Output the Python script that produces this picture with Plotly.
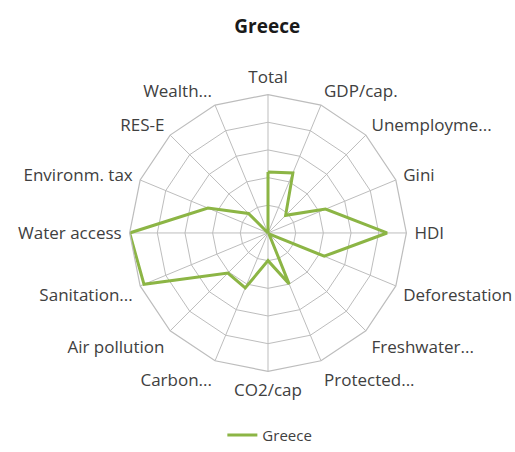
import plotly.graph_objects as go

categories = ["Total", "GDP/cap.", "Unemployme...", "Gini", "HDI", "Deforestation",
              "Freshwater...", "Protected...", "CO2/cap", "Carbon...", "Air pollution",
              "Sanitation...", "Water access", "Environm. tax", "RES-E", "Wealth..."]
greece = [0.44, 0.47, 0.18, 0.45, 0.86, 0.44, 0.01, 0.40, 0.20, 0.43, 0.41,
          0.97, 1.00, 0.47, 0.20, 0.0]

series_name = "Greece"
line_color = "#8cb545"
grid_color = "#bdbdbd"
text_color = "#404040"
font_family = "'Open Sans', sans-serif"

fig = go.Figure()
fig.add_trace(go.Scatterpolar(
    r=greece + greece[:1],
    theta=categories + categories[:1],
    mode="lines",
    name=series_name,
    line=dict(color=line_color, width=3),
))

fig.update_layout(
    width=515, height=452,
    margin=dict(l=0, r=0, t=0, b=0),
    paper_bgcolor="white",
    plot_bgcolor="white",
    font=dict(family=font_family, size=17, color=text_color),
    title=dict(text="<b>Greece</b>", x=0.519, xanchor="center", y=0.942, yanchor="middle",
               font=dict(family=font_family, size=19, color="#1a1a1a")),
    polar=dict(
        domain=dict(x=[0.2505, 0.7903], y=[0.1748, 0.7898]),
        bgcolor="white",
        gridshape="linear",
        radialaxis=dict(range=[0, 1], dtick=0.2, showticklabels=False, ticks="",
                        showline=False, gridcolor=grid_color, gridwidth=1.2),
        angularaxis=dict(direction="clockwise", rotation=90, gridcolor=grid_color,
                         gridwidth=1.2, linecolor=grid_color, linewidth=1.2,
                         ticks="outside", ticklen=4, tickcolor="rgba(0,0,0,0)",
                         tickfont=dict(size=17, color=text_color)),
    ),
    showlegend=True,
    legend=dict(orientation="h", x=0.524, xanchor="center", y=0.033, yanchor="middle",
                font=dict(size=15, color=text_color)),
)

fig.write_html("out.html")
